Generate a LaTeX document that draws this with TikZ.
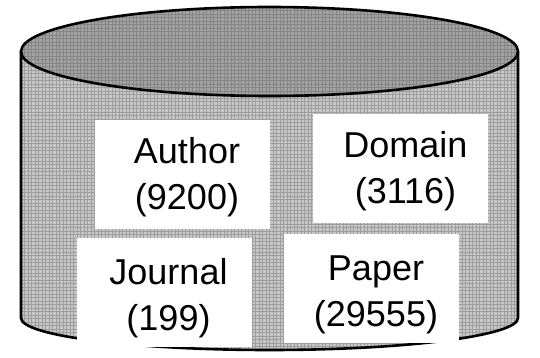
\documentclass[tikz,border=0pt]{standalone}
\usepackage{fontspec}
\setmainfont{Liberation Sans}
\begin{document}
\begin{tikzpicture}[x=1pt,y=1pt,
  tablebox/.style={rectangle, fill=white, draw=none, inner sep=0pt,
    minimum width=175pt, minimum height=109pt},
  tabletext/.style={inner sep=0pt, align=center,
    font=\fontsize{36}{46}\selectfont},
  outline/.style={line width=2.6pt, line join=round},
  hatchtop/.style={draw=black!48, line width=0.7pt},
  hatchbody/.style={draw=black!38, line width=0.7pt}]
\useasboundingbox (0,0) rectangle (540,357);

% cylinder body: straight sides and the lower half-ellipse
\def\bodypath{(21,305.5) -- (21,39) arc[start angle=180, end angle=360, x radius=248.5pt, y radius=32pt] -- (518,305.5) -- cycle}
\fill[black!22] \bodypath;
\begin{scope}
  \clip \bodypath;
  \draw[hatchbody] (0,0) grid[step=3.5pt] (540,360);
\end{scope}
\draw[outline] (21,305.5) -- (21,39) arc[start angle=180, end angle=360, x radius=248.5pt, y radius=32pt] -- (518,305.5);

% cylinder lid
\fill[black!36] (269.5,305.5) ellipse[x radius=248.5pt, y radius=44.5pt];
\begin{scope}
  \clip (269.5,305.5) ellipse[x radius=248.5pt, y radius=44.5pt];
  \draw[hatchtop] (0,250) grid[step=3.5pt] (540,360);
\end{scope}
\draw[outline] (269.5,305.5) ellipse[x radius=248.5pt, y radius=44.5pt];

% tables stored in the database
\node[tablebox] (author)  at (182,182.5)   {};
\node[tablebox] (domain)  at (400.5,188.5) {};
\node[tablebox] (journal) at (164.5,64.5)  {};
\node[tablebox] (paper)   at (371,68.5)    {};

\node[tabletext] (authortext)  at ([xshift=5pt,yshift=-2.5pt]author.center)  {Author\\(9200)};
\node[tabletext] (domaintext)  at ([xshift=5pt,yshift=-3pt]domain.center)    {Domain\\(3116)};
\node[tabletext] (journaltext) at ([xshift=4pt,yshift=-6pt]journal.center)   {Journal\\(199)};
\node[tabletext] (papertext)   at ([xshift=5pt,yshift=-6pt]paper.center)     {Paper\\(29555)};
\end{tikzpicture}
\end{document}
